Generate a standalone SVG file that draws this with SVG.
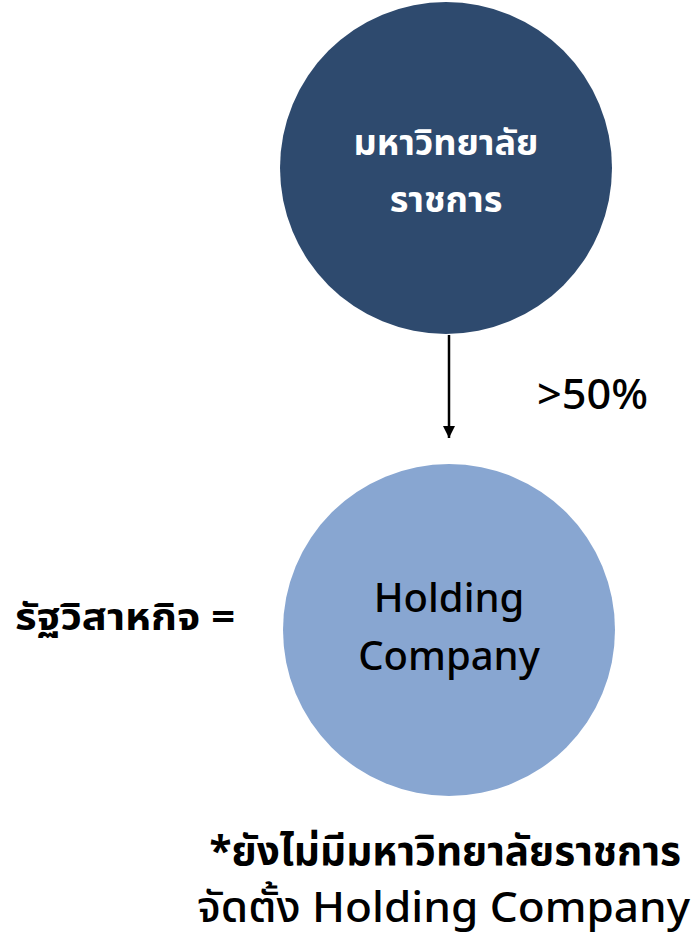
<svg xmlns="http://www.w3.org/2000/svg" width="697" height="940" viewBox="0 0 697 940">
<style>
.t{font-family:"Noto Sans","Noto Sans Thai","DejaVu Sans",sans-serif;}
</style>
<defs>
<marker id="ah" viewBox="0 0 10 10" refX="10" refY="5" markerWidth="5" markerHeight="5" markerUnits="strokeWidth" orient="auto">
<path d="M0,0 L10,5 L0,10 z" fill="#000"/>
</marker>
</defs>
<rect width="697" height="940" fill="#fff"/>
<g id="connectors">
<line x1="449" y1="335" x2="449" y2="438" stroke="#000" stroke-width="2.5" marker-end="url(#ah)"/>
<text class="t" x="537" y="409" font-size="42" font-weight="500" fill="#000" textLength="111" lengthAdjust="spacingAndGlyphs">&gt;50%</text>
</g>
<g id="university">
<circle cx="446" cy="168" r="166" fill="#2E4A6E"/>
<text class="t" x="446" y="155" font-size="36" font-weight="bold" fill="#fff" text-anchor="middle">มหาวิทยาลัย</text>
<text class="t" x="446" y="212" font-size="36" font-weight="bold" fill="#fff" text-anchor="middle">ราชการ</text>
</g>
<g id="holding">
<circle cx="449" cy="630" r="166" fill="#88A6D1"/>
<text class="t" x="449" y="612" font-size="40" font-weight="500" fill="#000" text-anchor="middle">Holding</text>
<text class="t" x="449" y="670" font-size="40" font-weight="500" fill="#000" text-anchor="middle">Company</text>
</g>
<g id="label-left">
<text class="t" x="15" y="630" font-size="38" font-weight="bold" fill="#000" textLength="220" lengthAdjust="spacingAndGlyphs">รัฐวิสาหกิจ =</text>
</g>
<g id="note">
<text class="t" x="681" y="865" font-size="40.5" font-weight="bold" fill="#000" text-anchor="end">*ยังไม่มีมหาวิทยาลัยราชการ</text>
<text class="t" x="197" y="922" font-size="42" font-weight="500" fill="#000" textLength="493" lengthAdjust="spacingAndGlyphs">จัดตั้ง Holding Company</text>
</g>
</svg>
